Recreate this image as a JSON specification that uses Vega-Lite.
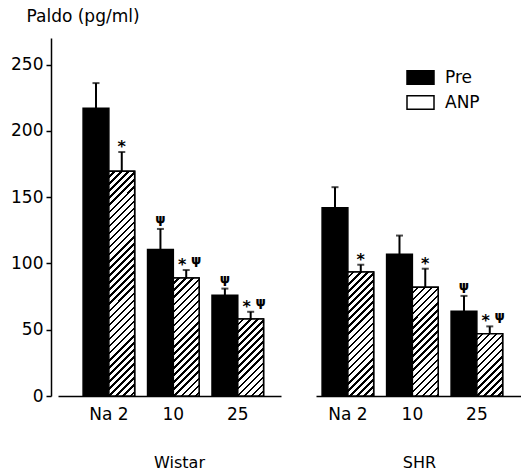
{
  "$schema": "https://vega.github.io/schema/vega-lite/v6.json",
  "padding": {"left": 10, "top": 7, "right": 0, "bottom": 0},
  "background": "white",
  "params": [
    {"name": "hatch", "value": [
      {"offset": 0, "color": "#fff"}, {"offset": 0.016, "color": "#fff"}, {"offset": 0.016, "color": "#000"}, {"offset": 0.025, "color": "#000"},
      {"offset": 0.025, "color": "#fff"}, {"offset": 0.041, "color": "#fff"}, {"offset": 0.041, "color": "#000"}, {"offset": 0.05, "color": "#000"},
      {"offset": 0.05, "color": "#fff"}, {"offset": 0.066, "color": "#fff"}, {"offset": 0.066, "color": "#000"}, {"offset": 0.075, "color": "#000"},
      {"offset": 0.075, "color": "#fff"}, {"offset": 0.091, "color": "#fff"}, {"offset": 0.091, "color": "#000"}, {"offset": 0.1, "color": "#000"},
      {"offset": 0.1, "color": "#fff"}, {"offset": 0.116, "color": "#fff"}, {"offset": 0.116, "color": "#000"}, {"offset": 0.125, "color": "#000"},
      {"offset": 0.125, "color": "#fff"}, {"offset": 0.141, "color": "#fff"}, {"offset": 0.141, "color": "#000"}, {"offset": 0.15, "color": "#000"},
      {"offset": 0.15, "color": "#fff"}, {"offset": 0.166, "color": "#fff"}, {"offset": 0.166, "color": "#000"}, {"offset": 0.175, "color": "#000"},
      {"offset": 0.175, "color": "#fff"}, {"offset": 0.191, "color": "#fff"}, {"offset": 0.191, "color": "#000"}, {"offset": 0.2, "color": "#000"},
      {"offset": 0.2, "color": "#fff"}, {"offset": 0.216, "color": "#fff"}, {"offset": 0.216, "color": "#000"}, {"offset": 0.225, "color": "#000"},
      {"offset": 0.225, "color": "#fff"}, {"offset": 0.241, "color": "#fff"}, {"offset": 0.241, "color": "#000"}, {"offset": 0.25, "color": "#000"},
      {"offset": 0.25, "color": "#fff"}, {"offset": 0.266, "color": "#fff"}, {"offset": 0.266, "color": "#000"}, {"offset": 0.275, "color": "#000"},
      {"offset": 0.275, "color": "#fff"}, {"offset": 0.291, "color": "#fff"}, {"offset": 0.291, "color": "#000"}, {"offset": 0.3, "color": "#000"},
      {"offset": 0.3, "color": "#fff"}, {"offset": 0.316, "color": "#fff"}, {"offset": 0.316, "color": "#000"}, {"offset": 0.325, "color": "#000"},
      {"offset": 0.325, "color": "#fff"}, {"offset": 0.341, "color": "#fff"}, {"offset": 0.341, "color": "#000"}, {"offset": 0.35, "color": "#000"},
      {"offset": 0.35, "color": "#fff"}, {"offset": 0.366, "color": "#fff"}, {"offset": 0.366, "color": "#000"}, {"offset": 0.375, "color": "#000"},
      {"offset": 0.375, "color": "#fff"}, {"offset": 0.391, "color": "#fff"}, {"offset": 0.391, "color": "#000"}, {"offset": 0.4, "color": "#000"},
      {"offset": 0.4, "color": "#fff"}, {"offset": 0.416, "color": "#fff"}, {"offset": 0.416, "color": "#000"}, {"offset": 0.425, "color": "#000"},
      {"offset": 0.425, "color": "#fff"}, {"offset": 0.441, "color": "#fff"}, {"offset": 0.441, "color": "#000"}, {"offset": 0.45, "color": "#000"},
      {"offset": 0.45, "color": "#fff"}, {"offset": 0.466, "color": "#fff"}, {"offset": 0.466, "color": "#000"}, {"offset": 0.475, "color": "#000"},
      {"offset": 0.475, "color": "#fff"}, {"offset": 0.491, "color": "#fff"}, {"offset": 0.491, "color": "#000"}, {"offset": 0.5, "color": "#000"},
      {"offset": 0.5, "color": "#fff"}, {"offset": 0.516, "color": "#fff"}, {"offset": 0.516, "color": "#000"}, {"offset": 0.525, "color": "#000"},
      {"offset": 0.525, "color": "#fff"}, {"offset": 0.541, "color": "#fff"}, {"offset": 0.541, "color": "#000"}, {"offset": 0.55, "color": "#000"},
      {"offset": 0.55, "color": "#fff"}, {"offset": 0.566, "color": "#fff"}, {"offset": 0.566, "color": "#000"}, {"offset": 0.575, "color": "#000"},
      {"offset": 0.575, "color": "#fff"}, {"offset": 0.591, "color": "#fff"}, {"offset": 0.591, "color": "#000"}, {"offset": 0.6, "color": "#000"},
      {"offset": 0.6, "color": "#fff"}, {"offset": 0.616, "color": "#fff"}, {"offset": 0.616, "color": "#000"}, {"offset": 0.625, "color": "#000"},
      {"offset": 0.625, "color": "#fff"}, {"offset": 0.641, "color": "#fff"}, {"offset": 0.641, "color": "#000"}, {"offset": 0.65, "color": "#000"},
      {"offset": 0.65, "color": "#fff"}, {"offset": 0.666, "color": "#fff"}, {"offset": 0.666, "color": "#000"}, {"offset": 0.675, "color": "#000"},
      {"offset": 0.675, "color": "#fff"}, {"offset": 0.691, "color": "#fff"}, {"offset": 0.691, "color": "#000"}, {"offset": 0.7, "color": "#000"},
      {"offset": 0.7, "color": "#fff"}, {"offset": 0.716, "color": "#fff"}, {"offset": 0.716, "color": "#000"}, {"offset": 0.725, "color": "#000"},
      {"offset": 0.725, "color": "#fff"}, {"offset": 0.741, "color": "#fff"}, {"offset": 0.741, "color": "#000"}, {"offset": 0.75, "color": "#000"},
      {"offset": 0.75, "color": "#fff"}, {"offset": 0.766, "color": "#fff"}, {"offset": 0.766, "color": "#000"}, {"offset": 0.775, "color": "#000"},
      {"offset": 0.775, "color": "#fff"}, {"offset": 0.791, "color": "#fff"}, {"offset": 0.791, "color": "#000"}, {"offset": 0.8, "color": "#000"},
      {"offset": 0.8, "color": "#fff"}, {"offset": 0.816, "color": "#fff"}, {"offset": 0.816, "color": "#000"}, {"offset": 0.825, "color": "#000"},
      {"offset": 0.825, "color": "#fff"}, {"offset": 0.841, "color": "#fff"}, {"offset": 0.841, "color": "#000"}, {"offset": 0.85, "color": "#000"},
      {"offset": 0.85, "color": "#fff"}, {"offset": 0.866, "color": "#fff"}, {"offset": 0.866, "color": "#000"}, {"offset": 0.875, "color": "#000"},
      {"offset": 0.875, "color": "#fff"}, {"offset": 0.891, "color": "#fff"}, {"offset": 0.891, "color": "#000"}, {"offset": 0.9, "color": "#000"},
      {"offset": 0.9, "color": "#fff"}, {"offset": 1, "color": "#fff"}
    ]}
  ],
  "config": {
    "view": {"stroke": null},
    "font": "DejaVu Sans",
    "axis": {"labelColor": "black", "titleColor": "black", "labelFont": "DejaVu Sans", "titleFont": "DejaVu Sans", "titleFontWeight": "normal"}
  },
  "datasets": {
    "rows": [
      {"strain": "Wistar", "na": "Na 2", "cond": "Pre", "v": 217, "e": 236, "star": "", "psi": ""},
      {"strain": "Wistar", "na": "Na 2", "cond": "ANP", "v": 169.5, "e": 184, "star": "*", "psi": ""},
      {"strain": "Wistar", "na": "10", "cond": "Pre", "v": 110.5, "e": 126, "star": "", "psi": "ψ"},
      {"strain": "Wistar", "na": "10", "cond": "ANP", "v": 89, "e": 95, "star": "*", "psi": "ψ"},
      {"strain": "Wistar", "na": "25", "cond": "Pre", "v": 76, "e": 81, "star": "", "psi": "ψ"},
      {"strain": "Wistar", "na": "25", "cond": "ANP", "v": 58, "e": 63.5, "star": "*", "psi": "ψ"},
      {"strain": "SHR", "na": "Na 2", "cond": "Pre", "v": 142, "e": 157.5, "star": "", "psi": ""},
      {"strain": "SHR", "na": "Na 2", "cond": "ANP", "v": 93.5, "e": 99, "star": "*", "psi": ""},
      {"strain": "SHR", "na": "10", "cond": "Pre", "v": 107, "e": 121, "star": "", "psi": ""},
      {"strain": "SHR", "na": "10", "cond": "ANP", "v": 82, "e": 96, "star": "*", "psi": ""},
      {"strain": "SHR", "na": "25", "cond": "Pre", "v": 64, "e": 75.5, "star": "", "psi": "ψ"},
      {"strain": "SHR", "na": "25", "cond": "ANP", "v": 47, "e": 52.5, "star": "*", "psi": "ψ"}
    ]
  },
  "spacing": 35,
  "resolve": {"scale": {"fill": "independent"}, "legend": {"fill": "independent"}},
  "hconcat": [
    {
      "width": 223,
      "height": 358,
      "data": {"name": "rows"},
      "transform": [{"filter": "datum.strain === 'Wistar'"}],
      "encoding": {
        "x": {"field": "na", "type": "nominal", "sort": ["Na 2", "10", "25"],
          "scale": {"paddingInner": 0.2, "paddingOuter": 0.33, "align": 0.59},
          "axis": {"title": "Wistar", "titleX": 121, "titleFontSize": 16, "titlePadding": 32, "labelAngle": 0, "labelFontSize": 17, "labelPadding": 10, "ticks": false, "domainColor": "black", "domainWidth": 1.5}},
        "xOffset": {"field": "cond", "type": "nominal", "sort": ["Pre", "ANP"], "scale": {"paddingInner": 0, "paddingOuter": 0}},
        "y": {"field": "v", "type": "quantitative", "scale": {"domain": [0, 270], "nice": false},
          "axis": {"title": "Paldo (pg/ml)", "titleAngle": 0, "titleAlign": "left", "titleBaseline": "alphabetic", "titleX": -25, "titleY": -17, "titleFontSize": 17,
            "values": [0, 50, 100, 150, 200, 250], "grid": false, "tickSize": 5, "tickWidth": 1.5, "tickColor": "black", "domainColor": "black", "domainWidth": 1.5,
            "labelFontSize": 17, "labelPadding": 3, "offset": 7}}
      },
      "layer": [
        {"mark": {"type": "bar", "stroke": "black", "strokeWidth": 1.5},
         "encoding": {"fill": {"field": "cond", "type": "nominal", "scale": {"domain": ["Pre", "ANP"], "range": ["black", "white"]}, "legend": null}}},
        {"transform": [{"filter": "datum.cond === 'ANP'"}],
         "mark": {"type": "bar", "stroke": "black", "strokeWidth": 1.5,
           "fill": {"expr": "{gradient: 'linear', x1: 0, y1: 0, x2: 282.84*25.8/(665.64 + pow(datum.v*1.32593, 2)), y2: 282.84*datum.v*1.32593/(665.64 + pow(datum.v*1.32593, 2)), stops: hatch}"}}},
        {"mark": {"type": "rule", "color": "black", "strokeWidth": 2}, "encoding": {"y2": {"field": "e"}}},
        {"mark": {"type": "tick", "color": "black", "thickness": 2, "size": 7, "orient": "horizontal"}, "encoding": {"y": {"field": "e", "type": "quantitative"}}},
        {"transform": [{"filter": "datum.star !== ''"}],
         "mark": {"type": "text", "fontSize": 16, "fontWeight": "bold", "baseline": "alphabetic", "dy": 0, "dx": {"expr": "datum.psi !== '' ? -4 : 0"}, "color": "black"},
         "encoding": {"y": {"field": "e", "type": "quantitative"}, "text": {"field": "star"}}},
        {"transform": [{"filter": "datum.psi !== ''"}],
         "mark": {"type": "text", "fontSize": 13, "fontWeight": "bold", "baseline": "alphabetic", "dy": -6, "dx": {"expr": "datum.star !== '' ? 10 : 0"}, "color": "black"},
         "encoding": {"y": {"field": "e", "type": "quantitative"}, "text": {"field": "psi"}}}
      ]
    },
    {
      "width": 206,
      "height": 358,
      "data": {"name": "rows"},
      "transform": [{"filter": "datum.strain === 'SHR'"}],
      "encoding": {
        "x": {"field": "na", "type": "nominal", "sort": ["Na 2", "10", "25"],
          "scale": {"paddingInner": 0.2, "paddingOuter": 0.197, "align": 0.24},
          "axis": {"title": "SHR", "titleFontSize": 16, "titlePadding": 32, "labelAngle": 0, "labelFontSize": 17, "labelPadding": 10, "ticks": false, "domainColor": "black", "domainWidth": 1.5}},
        "xOffset": {"field": "cond", "type": "nominal", "sort": ["Pre", "ANP"], "scale": {"paddingInner": 0, "paddingOuter": 0}},
        "y": {"field": "v", "type": "quantitative", "scale": {"domain": [0, 270], "nice": false}, "axis": null}
      },
      "layer": [
        {"mark": {"type": "bar", "stroke": "black", "strokeWidth": 1.5},
         "encoding": {"fill": {"field": "cond", "type": "nominal", "sort": ["Pre", "ANP"], "scale": {"domain": ["Pre", "ANP"], "range": ["black", "white"]},
           "legend": {"orient": "none", "legendX": 90, "legendY": 25, "title": null, "padding": 0, "symbolType": "M-1,-0.5H1V0.5H-1Z", "symbolSize": 729,
             "symbolStrokeColor": "black", "symbolStrokeWidth": 1.5, "labelFontSize": 17, "labelColor": "black", "labelOffset": 10, "rowPadding": 0,
             "encode": {"symbols": {"update": {
               "stroke": {"value": "black"},
               "strokeWidth": {"value": 1.5},
               "opacity": {"value": 1},
               "fill": {"signal": "datum.value === 'ANP' ? {gradient: 'linear', x1: 0, y1: 0, x2: 8.38, y2: 4.19, stops: hatch} : 'black'"}}}}}}}},
        {"transform": [{"filter": "datum.cond === 'ANP'"}],
         "mark": {"type": "bar", "stroke": "black", "strokeWidth": 1.5,
           "fill": {"expr": "{gradient: 'linear', x1: 0, y1: 0, x2: 282.84*25.8/(665.64 + pow(datum.v*1.32593, 2)), y2: 282.84*datum.v*1.32593/(665.64 + pow(datum.v*1.32593, 2)), stops: hatch}"}}},
        {"mark": {"type": "rule", "color": "black", "strokeWidth": 2}, "encoding": {"y2": {"field": "e"}}},
        {"mark": {"type": "tick", "color": "black", "thickness": 2, "size": 7, "orient": "horizontal"}, "encoding": {"y": {"field": "e", "type": "quantitative"}}},
        {"transform": [{"filter": "datum.star !== ''"}],
         "mark": {"type": "text", "fontSize": 16, "fontWeight": "bold", "baseline": "alphabetic", "dy": 0, "dx": {"expr": "datum.psi !== '' ? -4 : 0"}, "color": "black"},
         "encoding": {"y": {"field": "e", "type": "quantitative"}, "text": {"field": "star"}}},
        {"transform": [{"filter": "datum.psi !== ''"}],
         "mark": {"type": "text", "fontSize": 13, "fontWeight": "bold", "baseline": "alphabetic", "dy": -6, "dx": {"expr": "datum.star !== '' ? 10 : 0"}, "color": "black"},
         "encoding": {"y": {"field": "e", "type": "quantitative"}, "text": {"field": "psi"}}}
      ]
    }
  ]
}
